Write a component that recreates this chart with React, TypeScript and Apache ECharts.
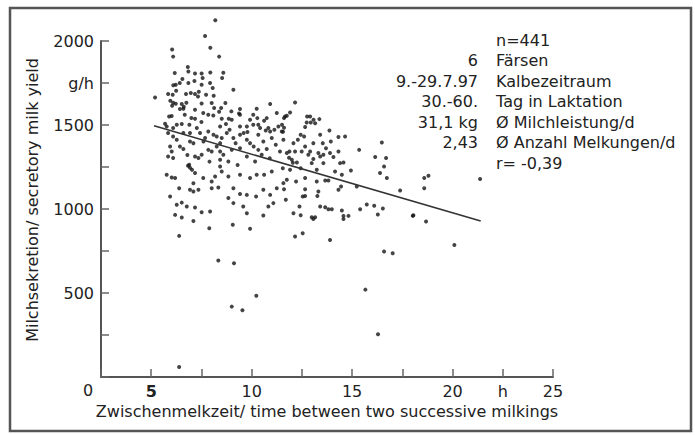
import React, { useEffect, useRef } from "react";
import * as echarts from "echarts";

const pointsTop: [number, number][] = [
  [8.19, 2123], [7.68, 2030], [7.94, 1960], [6.04, 1950], [6.09, 1907], [8.38, 1907], [6.82, 1845], [6.85, 1819],
  [6.17, 1809], [7.18, 1807], [7.51, 1807], [7.94, 1813], [8.59, 1811], [8.53, 1780], [6.55, 1774], [7.15, 1762],
  [7.56, 1780], [6.85, 1750], [6.42, 1750], [6.22, 1740], [6.1, 1736], [7.51, 1740], [7.93, 1750], [9.09, 1710], [8.06, 1720],
];

const pointsUpper: [number, number][] = [
  [5.84, 1684], [6.07, 1680], [6.24, 1704], [6.73, 1684], [6.97, 1690], [7.18, 1684], [7.37, 1698], [7.33, 1670],
  [7.73, 1680], [8.11, 1674], [5.19, 1664], [5.95, 1644], [6.09, 1632], [6.22, 1626], [6.04, 1614], [6.52, 1625],
  [6.62, 1609], [6.75, 1632], [6.6, 1597], [6.43, 1595], [7.51, 1628], [8.01, 1631], [8.13, 1601], [8.69, 1631],
  [8.48, 1601], [8.38, 1579], [8.99, 1581], [9.42, 1595], [9.37, 1569], [10.25, 1597], [10.92, 1625], [7.18, 1591],
  [7.59, 1571], [7.84, 1561], [8.09, 1557], [6.02, 1553], [6.67, 1561], [10.08, 1561], [10.28, 1541], [11.25, 1571],
  [12.16, 1634], [11.75, 1555], [11.91, 1575], [11.66, 1551], [5.89, 1551], [9.42, 1561], [10.75, 1541], [12.76, 1551], [12.91, 1551],
];

const pointsBand: [number, number][] = [
  [7.18, 1537], [7.5, 1518], [6.9, 1501], [6.27, 1501], [6.52, 1506], [8.51, 1537], [8.72, 1506], [8.86, 1537],
  [9.01, 1531], [9.42, 1491], [9.76, 1491], [9.79, 1458], [10.08, 1501], [10.33, 1501], [10.42, 1482], [10.62, 1525],
  [10.7, 1467], [10.92, 1461], [11.13, 1472], [11.33, 1491], [5.69, 1507], [7.27, 1482], [7.84, 1461], [8.43, 1491],
  [10.83, 1482], [11.5, 1461], [9.92, 1531], [5.77, 1491], [6.09, 1482], [6.93, 1452],
  [5.84, 1452], [6.09, 1432], [6.27, 1412], [6.6, 1452], [6.93, 1402], [7.1, 1392], [7.43, 1452], [7.68, 1422],
  [8.26, 1432], [8.43, 1392], [8.51, 1422], [8.76, 1452], [9.09, 1422], [9.42, 1442], [9.76, 1412], [9.92, 1392],
  [10.33, 1442], [10.58, 1402], [11.0, 1422], [11.58, 1412],
  [5.94, 1372], [6.43, 1372], [6.02, 1342], [7.84, 1352], [8.01, 1342], [8.26, 1372], [8.43, 1342], [8.59, 1323],
  [9.01, 1352], [9.42, 1362], [10.33, 1352], [10.75, 1357], [11.41, 1342], [11.75, 1333], [6.09, 1303], [7.18, 1313],
  [7.35, 1303], [7.51, 1323], [8.43, 1293], [8.84, 1283], [9.76, 1313], [10.17, 1283], [6.89, 1263], [5.84, 1313],
  [11.61, 1541], [11.51, 1501], [11.61, 1484], [11.56, 1460], [13.08, 1531], [12.74, 1515], [12.94, 1515], [13.16, 1511],
  [13.37, 1535], [12.66, 1488], [12.44, 1442], [12.61, 1432], [13.41, 1442], [13.87, 1467], [14.32, 1428], [14.65, 1432],
  [13.94, 1402], [13.54, 1392], [13.07, 1392], [12.66, 1372], [12.08, 1392], [11.88, 1342], [12.16, 1342], [12.49, 1342],
  [12.91, 1342], [12.82, 1323], [13.32, 1333], [13.41, 1313], [13.57, 1323], [13.9, 1333], [14.07, 1309], [14.32, 1342],
  [15.35, 1352], [16.48, 1396], [16.15, 1309], [16.69, 1303], [11.86, 1305], [12.0, 1293], [12.05, 1275], [12.25, 1277],
  [12.99, 1273], [13.07, 1297], [13.57, 1273], [14.4, 1273], [14.57, 1277],
  [6.6, 1357], [7.6, 1402], [8.1, 1442], [9.2, 1392], [9.6, 1452], [10.1, 1372], [10.5, 1323], [11.2, 1382],
  [6.8, 1322], [7.9, 1282], [9.3, 1262], [10.9, 1302], [8.9, 1472], [7.0, 1542], [12.3, 1412], [13.7, 1362],
];

const pointsLower: [number, number][] = [
  [8.43, 1253], [6.83, 1257], [6.93, 1245], [7.03, 1233], [7.18, 1214], [7.59, 1184], [8.18, 1193], [8.01, 1164],
  [8.51, 1223], [8.84, 1193], [9.42, 1204], [9.92, 1184], [10.25, 1204], [10.62, 1204], [11.0, 1223], [5.77, 1204],
  [6.02, 1187], [6.19, 1184], [7.1, 1153], [6.93, 1114], [7.1, 1104], [7.35, 1114], [8.01, 1124], [8.34, 1128],
  [9.09, 1124], [9.42, 1089], [9.76, 1084], [10.22, 1074], [10.58, 1114], [10.92, 1084], [11.25, 1124], [6.39, 1124],
  [5.94, 1074], [6.52, 1038], [6.27, 1025], [6.77, 1015], [7.18, 1009], [8.84, 1065], [9.09, 1035], [9.58, 1015],
  [10.83, 1015], [11.08, 1035],
  [11.55, 1243], [11.91, 1233], [12.44, 1243], [12.66, 1184], [13.24, 1233], [14.15, 1223], [14.94, 1229], [16.39, 1214],
  [16.59, 1253], [16.73, 1184], [11.75, 1174], [12.21, 1164], [13.24, 1164], [13.66, 1170], [13.82, 1170], [14.49, 1204],
  [14.45, 1134], [11.58, 1154], [11.61, 1118], [12.66, 1118], [12.54, 1074], [12.66, 1078], [13.32, 1104], [13.27, 1078],
  [14.32, 1114], [15.23, 1134], [17.39, 1110], [11.7, 1055], [12.38, 1015], [13.41, 1015], [13.66, 1011], [15.73, 1027],
  [16.1, 1019], [16.53, 1003], [18.59, 1184], [18.8, 1198], [18.59, 1124], [21.37, 1178],
];

const pointsSparse: [number, number][] = [
  [7.51, 981], [7.93, 985], [9.76, 975], [6.19, 965], [6.52, 949], [7.1, 929], [9.06, 906], [10.58, 961],
  [7.89, 886], [9.92, 882], [6.39, 840], [12.08, 975], [12.44, 963], [12.99, 951], [13.07, 940], [13.16, 951],
  [13.82, 999], [13.99, 999], [14.49, 991], [14.57, 959], [14.57, 941], [14.82, 959], [15.4, 999], [16.28, 967],
  [18.05, 963], [12.16, 836], [12.54, 856], [13.9, 816], [16.59, 747], [17.02, 737], [18.02, 959], [18.68, 925],
  [20.09, 786], [8.34, 693], [9.12, 677], [9.01, 419], [9.54, 397], [10.23, 484], [6.39, 60], [16.29, 254], [15.66, 520],
];

const trendLine: [number, number][] = [[5.14, 1495], [21.4, 929]];

const xTickLabels: Record<string, string> = { "5": "{b|5}", "10": "10", "15": "15", "20": "20", "22.5": "h", "25": "25" };
const yTickLabels: Record<string, string> = { "500": "500", "1000": "1000", "1500": "1500", "1750": "g/h", "2000": "2000" };

const annotValues = ["", "6", "9.-29.7.97", "30.-60.", "31,1 kg", "2,43", ""];
const annotLabels = ["n=441", "Färsen", "Kalbezeitraum", "Tag in Laktation", "Ø Milchleistung/d", "Ø Anzahl Melkungen/d", "r= -0,39"];

const xAxisTitle = "Zwischenmelkzeit/ time between two successive milkings";
const yAxisTitle = "Milchsekretion/ secretory milk yield";

export default function App() {
  const ref = useRef<HTMLDivElement>(null);
  useEffect(() => {
    const chart = echarts.init(ref.current!, null, { renderer: "svg" });
    const font = "'DejaVu Sans', sans-serif";
    const textColor = "#222";
    const allPoints = [...pointsTop, ...pointsUpper, ...pointsBand, ...pointsLower, ...pointsSparse];
    const graphics: any[] = [
      {
        type: "rect",
        shape: { x: 10, y: 8, width: 681, height: 423 },
        style: { fill: "none", stroke: "#555", lineWidth: 2.5 },
        silent: true,
      },
      {
        type: "text",
        x: 88,
        y: 390,
        style: { text: "0", font: `16px ${font}`, fill: textColor, align: "center", verticalAlign: "middle" },
      },
      {
        type: "text",
        x: 32,
        y: 200,
        rotation: Math.PI / 2,
        style: { text: yAxisTitle, font: `16px ${font}`, fill: textColor, align: "center", verticalAlign: "middle" },
      },
    ];
    const rowY = [40, 60.5, 81, 101.5, 122, 142.5, 163];
    annotLabels.forEach((lab, i) => {
      if (annotValues[i]) {
        graphics.push({
          type: "text",
          x: 478,
          y: rowY[i],
          style: { text: annotValues[i], font: `16px ${font}`, fill: textColor, align: "right", verticalAlign: "middle" },
        });
      }
      graphics.push({
        type: "text",
        x: 496,
        y: rowY[i],
        style: { text: lab, font: `16px ${font}`, fill: textColor, align: "left", verticalAlign: "middle" },
      });
    });

    chart.setOption({
      animation: false,
      backgroundColor: "#fff",
      grid: { left: 101, right: 142, top: 41, bottom: 58, containLabel: false, outerBoundsMode: "none" },
      xAxis: {
        type: "value",
        min: 2.5,
        max: 25,
        interval: 2.5,
        name: xAxisTitle,
        nameLocation: "middle",
        nameGap: 24,
        nameTextStyle: { fontSize: 16, color: textColor, fontFamily: font },
        axisLine: { show: true, onZero: false, lineStyle: { color: "#555", width: 2 } },
        axisTick: { show: true, inside: true, length: 8, lineStyle: { color: "#666", width: 1.5 } },
        splitLine: { show: false },
        axisLabel: {
          interval: 0,
          margin: 6,
          fontSize: 16,
          color: textColor,
          fontFamily: font,
          rich: { b: { fontSize: 16, fontWeight: "bold", color: textColor, fontFamily: font } },
          formatter: (v: number) => xTickLabels[String(v)] ?? "",
        },
      },
      yAxis: {
        type: "value",
        min: 0,
        max: 2000,
        interval: 250,
        axisLine: { show: true, onZero: false, lineStyle: { color: "#555", width: 2 } },
        axisTick: { show: true, inside: true, length: 8, lineStyle: { color: "#666", width: 1.5 } },
        splitLine: { show: false },
        axisLabel: {
          interval: 0,
          margin: 7,
          fontSize: 16,
          color: textColor,
          fontFamily: font,
          formatter: (v: number) => yTickLabels[String(v)] ?? "",
        },
      },
      series: [
        {
          type: "scatter",
          data: allPoints,
          symbol: "circle",
          symbolSize: 4,
          clip: false,
          itemStyle: { color: "#151515" },
          silent: true,
        },
        {
          type: "line",
          data: trendLine,
          symbol: "none",
          lineStyle: { color: "#333", width: 1.6 },
          silent: true,
        },
      ],
      graphic: graphics,
    });
    return () => chart.dispose();
  }, []);
  return (
    <div
      ref={ref}
      style={{ position: "absolute", left: 0, top: 0, width: 695, height: 435, background: "#fff" }}
    />
  );
}
